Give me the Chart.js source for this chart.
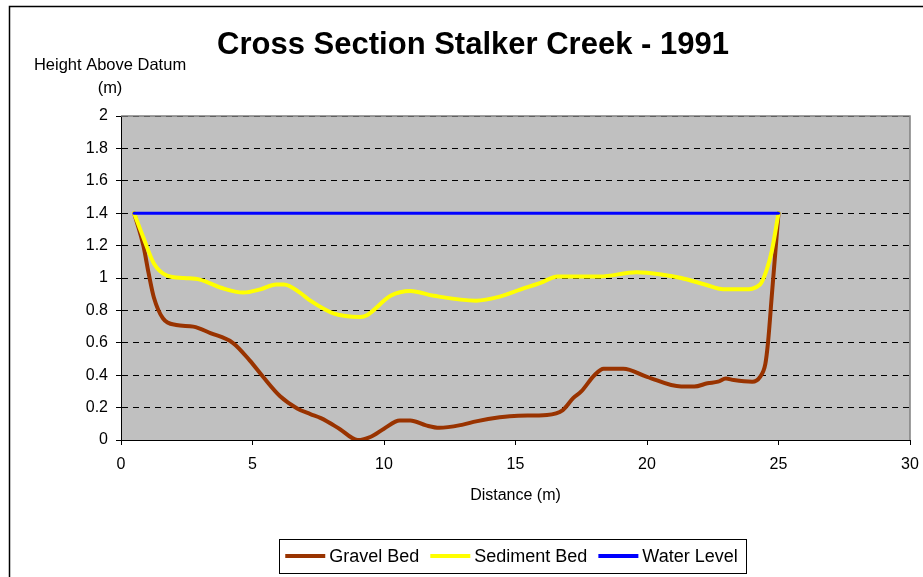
<!DOCTYPE html>
<html>
<head>
<meta charset="utf-8">
<title>Cross Section Stalker Creek - 1991</title>
<script src="https://cdn.jsdelivr.net/npm/chart.js@4.4.1/dist/chart.umd.min.js"></script>
<style>
  html, body { margin: 0; padding: 0; background: #fff; }
</style>
</head>
<body>
<canvas id="chart" width="923" height="577"></canvas>
<script>
const gravelX = [0.5, 0.85, 1.05, 1.25, 1.6, 2.1, 2.75, 3.4, 4.25, 4.9, 5.4, 6.05, 6.7, 7.2, 7.6, 8.3, 9.0, 9.5, 10.0, 10.6, 11.0, 11.6, 12.1, 13.0, 13.5, 14.4, 15.1, 16.2, 16.8, 17.2, 17.5, 18.0, 18.35, 19.1, 20.0, 21.3, 21.8, 22.3, 22.7, 23.0, 23.3, 24.0, 24.3, 24.5, 24.6, 24.75, 24.9, 25.0];
const gravelY = [1.4, 1.2, 1.03, 0.88, 0.75, 0.71, 0.70, 0.66, 0.60, 0.49, 0.39, 0.27, 0.195, 0.16, 0.135, 0.07, 0.0, 0.02, 0.07, 0.12, 0.12, 0.09, 0.075, 0.095, 0.115, 0.14, 0.15, 0.155, 0.185, 0.26, 0.3, 0.4, 0.44, 0.44, 0.39, 0.33, 0.33, 0.35, 0.36, 0.38, 0.37, 0.36, 0.39, 0.47, 0.6, 0.9, 1.2, 1.4];

const sedimentX = [0.5, 0.85, 1.25, 1.75, 2.4, 3.0, 3.8, 4.65, 5.3, 5.9, 6.2, 6.8, 7.2, 8.1, 9.1, 9.35, 10.25, 11.0, 11.9, 13.5, 14.4, 15.2, 15.95, 16.6, 17.5, 18.2, 19.6, 20.6, 21.3, 22.2, 22.9, 23.7, 24.3, 24.55, 24.75, 25.0];
const sedimentY = [1.4, 1.25, 1.09, 1.015, 1.0, 0.99, 0.94, 0.91, 0.93, 0.96, 0.96, 0.91, 0.86, 0.78, 0.76, 0.77, 0.89, 0.92, 0.89, 0.86, 0.885, 0.93, 0.97, 1.01, 1.01, 1.01, 1.035, 1.02, 1.0, 0.96, 0.93, 0.93, 0.96, 1.05, 1.17, 1.4];

const waterX = [0.5, 25.0];
const waterY = [1.4, 1.4];

const seriesNames = ["Gravel Bed", "Sediment Bed", "Water Level"];
const xTicks = [0, 5, 10, 15, 20, 25, 30];
const yTicks = [0, 0.2, 0.4, 0.6, 0.8, 1, 1.2, 1.4, 1.6, 1.8, 2];
const yTickLabels = ["0", "0.2", "0.4", "0.6", "0.8", "1", "1.2", "1.4", "1.6", "1.8", "2"];

const FONT = "'Liberation Sans', Arial, sans-serif";

function toPoints(xs, ys) {
  return xs.map((x, i) => ({ x: x, y: ys[i] }));
}

// grey plot area, outer frame, title, y title and boxed legend
const excelLook = {
  id: "excelLook",
  beforeDraw(chart) {
    const ctx = chart.ctx, a = chart.chartArea;
    ctx.save();
    ctx.fillStyle = "#ffffff";
    ctx.fillRect(0, 0, chart.width, chart.height);
    ctx.strokeStyle = "#000000";
    ctx.lineWidth = 1.5;
    ctx.strokeRect(9.5, 6.5, chart.width, chart.height);
    ctx.fillStyle = "#c0c0c0";
    ctx.fillRect(a.left, a.top, a.right - a.left, a.bottom - a.top);
    ctx.restore();
  },
  beforeDatasetsDraw(chart) {
    const ctx = chart.ctx, a = chart.chartArea;
    ctx.save();
    ctx.strokeStyle = "#808080";
    ctx.lineWidth = 1.5;
    ctx.beginPath();
    ctx.moveTo(a.left, a.top);
    ctx.lineTo(a.right, a.top);
    ctx.lineTo(a.right, a.bottom);
    ctx.stroke();
    ctx.restore();
  },
  afterDraw(chart) {
    const ctx = chart.ctx;
    ctx.save();
    ctx.fillStyle = "#000000";
    ctx.textAlign = "center";
    ctx.textBaseline = "middle";
    ctx.font = "bold 31px " + FONT;
    ctx.fillText("Cross Section Stalker Creek - 1991", 473, 45);
    ctx.font = "16.5px " + FONT;
    ctx.fillText("Height Above Datum", 110, 65);
    ctx.fillText("(m)", 110, 88);

    // legend
    ctx.font = "18px " + FONT;
    const sw = 40, gap = 4, sep = 11, padL = 6, padR = 9;
    const sets = chart.data.datasets;
    let total = 0;
    sets.forEach((d, i) => {
      total += sw + gap + ctx.measureText(d.label).width + (i < sets.length - 1 ? sep : 0);
    });
    const boxW = total + padL + padR, boxH = 34;
    const boxL = 513 - boxW / 2, boxT = 539;
    ctx.strokeStyle = "#000000";
    ctx.lineWidth = 1;
    ctx.strokeRect(Math.round(boxL) + 0.5, boxT + 0.5, Math.round(boxW), boxH);
    let x = boxL + padL;
    const cy = boxT + boxH / 2;
    ctx.textAlign = "left";
    sets.forEach((d) => {
      ctx.strokeStyle = d.borderColor;
      ctx.lineWidth = 4;
      ctx.beginPath();
      ctx.moveTo(x, cy);
      ctx.lineTo(x + sw, cy);
      ctx.stroke();
      ctx.fillText(d.label, x + sw + gap, cy + 1);
      x += sw + gap + ctx.measureText(d.label).width + sep;
    });
    ctx.restore();
  }
};

new Chart(document.getElementById("chart"), {
  type: "scatter",
  data: {
    datasets: [
      {
        label: seriesNames[0],
        data: toPoints(gravelX, gravelY),
        borderColor: "#993300",
        borderWidth: 4,
        order: 2
      },
      {
        label: seriesNames[1],
        data: toPoints(sedimentX, sedimentY),
        borderColor: "#ffff00",
        borderWidth: 4,
        order: 1
      },
      {
        label: seriesNames[2],
        data: toPoints(waterX, waterY),
        borderColor: "#0000ff",
        borderWidth: 3,
        cubicInterpolationMode: "default",
        order: 0
      }
    ]
  },
  options: {
    responsive: false,
    animation: false,
    devicePixelRatio: 1,
    layout: { padding: { top: 116, right: 13, bottom: 72, left: 0 } },
    datasets: {
      scatter: {
        showLine: true,
        pointRadius: 0,
        pointHoverRadius: 0,
        fill: false,
        cubicInterpolationMode: "monotone",
        borderCapStyle: "round",
        borderJoinStyle: "round"
      }
    },
    plugins: {
      legend: { display: false },
      title: { display: false },
      tooltip: { enabled: false }
    },
    scales: {
      x: {
        type: "linear",
        min: 0,
        max: 30,
        afterBuildTicks: (s) => { s.ticks = xTicks.map((v) => ({ value: v })); },
        afterFit: (s) => {
          s.height = 65;
          s.paddingRight = 0;
          s.paddingLeft = 0;
        },
        ticks: {
          color: "#000000",
          font: { family: FONT, size: 16 },
          padding: 10,
          maxRotation: 0,
          autoSkip: false
        },
        grid: {
          drawOnChartArea: false,
          drawTicks: true,
          tickLength: 5,
          tickColor: "#000000"
        },
        border: { color: "#000000", width: 1 },
        title: {
          display: true,
          text: "Distance (m)",
          color: "#000000",
          font: { family: FONT, size: 16 },
          padding: 0
        }
      },
      y: {
        type: "linear",
        min: 0,
        max: 2,
        afterBuildTicks: (s) => { s.ticks = yTicks.map((v) => ({ value: v })); },
        afterFit: (s) => { s.width = 121; },
        ticks: {
          color: "#000000",
          font: { family: FONT, size: 16 },
          padding: 8,
          callback: (v, i) => yTickLabels[i]
        },
        grid: {
          color: "#000000",
          lineWidth: 1,
          drawTicks: true,
          tickLength: 5,
          tickColor: "#000000",
          tickBorderDash: []
        },
        border: { color: "#000000", width: 1, dash: [6, 5] }
      }
    }
  },
  plugins: [excelLook]
});
</script>
</body>
</html>
